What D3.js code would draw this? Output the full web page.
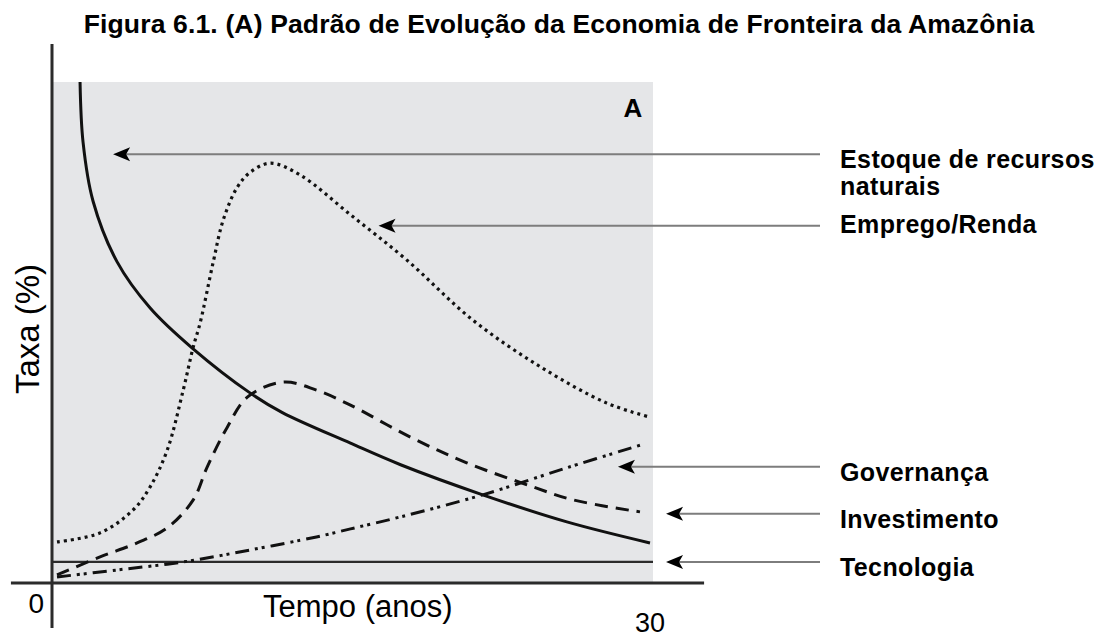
<!DOCTYPE html>
<html>
<head>
<meta charset="utf-8">
<script src="https://cdn.jsdelivr.net/npm/d3@7"></script>
<style>
  body { margin: 0; background: #fff; }
  text { font-family: "Liberation Sans", Arial, Helvetica, sans-serif; fill: #000; }
</style>
</head>
<body>
<div id="chart"></div>
<script>
// Curves: x in years (0-30), y in % of the plot height
var estoqueX   = [1.4, 1.55, 2.05, 3.25, 4.9, 7.0, 9.9, 11.5, 14.9, 17.4, 21.5, 25.7, 29.85],
    estoqueY   = [100, 88, 76.2, 64.1, 54.9, 46.9, 37.9, 34.0, 27.9, 23.6, 17.6, 12.2, 8.0];

var empregoX   = [0.25, 2.4, 4.05, 4.9, 5.75, 6.55, 7.05, 7.4, 8.05, 8.55, 9.25, 9.9, 10.9, 12.4, 14.9, 17.7, 21.0, 24.4, 27.7, 29.85],
    empregoY   = [8.2, 10.0, 14.6, 19.2, 26.5, 38.5, 47.1, 52.0, 64.1, 72.5, 79.0, 82.0, 83.8, 81.4, 73.5, 64.5, 52.5, 43.1, 35.9, 33.1];

var investX    = [0.25, 2.4, 4.25, 5.75, 7.05, 7.75, 8.75, 9.75, 11.55, 13.2, 14.9, 17.9, 20.7, 24.0, 26.0, 29.35],
    investY    = [1.6, 5.2, 8.0, 11.0, 16.6, 23.2, 31.1, 37.1, 40.1, 38.5, 35.5, 29.1, 24.0, 19.2, 16.6, 14.2];

var governX    = [0.25, 3.25, 6.55, 9.9, 13.2, 14.9, 17.4, 21.5, 25.7, 29.35],
    governY    = [1.2, 2.6, 4.2, 6.6, 9.2, 10.8, 13.2, 17.6, 23.0, 27.5];

var tecnoX     = [0, 30],
    tecnoY     = [4.2, 4.2];

// Legend: label lines, arrow tip (x, y) in data units
var labelLines = [["Estoque de recursos", "naturais"], ["Emprego/Renda"], ["Governança"], ["Investimento"], ["Tecnologia"]],
    arrowTipX  = [3.05, 16.3, 28.25, 30.65, 30.65],
    arrowTipY  = [85.6, 71.3, 23.2, 13.8, 4.2];

var titleText  = "Figura 6.1. (A) Padrão de Evolução da Economia de Fronteira da Amazônia",
    xLabel     = "Tempo (anos)",
    yLabel     = "Taxa (%)",
    xTicks     = [0, 30],
    panelTag   = "A";

var width  = 1105,
    height = 638;

var svg = d3.select("#chart")
            .append("svg")
              .attr("width", width)
              .attr("height", height);

// Scales: plot area is the grey panel
var x = d3.scaleLinear().domain([0, 30]).range([52, 653]),
    y = d3.scaleLinear().domain([0, 100]).range([583, 82]);

// Grey panel
svg.append("rect")
     .attr("x", x(0))
     .attr("y", y(100))
     .attr("width", x(30) - x(0))
     .attr("height", y(0) - y(100))
     .style("fill", "#e5e6e8");

// Title
svg.append("text")
     .attr("x", 559)
     .attr("y", 33)
     .attr("text-anchor", "middle")
     .style("font-size", "26.5px")
     .style("font-weight", "bold")
     .style("letter-spacing", "0.15px")
     .text(titleText);

// Panel tag
svg.append("text")
     .attr("x", x(29))
     .attr("y", 117)
     .attr("text-anchor", "middle")
     .style("font-size", "26px")
     .style("font-weight", "bold")
     .text(panelTag);

var line = d3.line()
             .x(function(d) { return x(d[0]); })
             .y(function(d) { return y(d[1]); })
             .curve(d3.curveCatmullRom.alpha(0.5));

function pts(xs, ys) { return xs.map(function(v, i) { return [v, ys[i]]; }); }

// Series, drawn with their own dash style
var series = [
  {xs: tecnoX,   ys: tecnoY,   dash: null,              w: 2.2, c: "#2b2b2b"},
  {xs: governX,  ys: governY,  dash: "14,6,3,4,3,6",    w: 3,   c: "#111"},
  {xs: investX,  ys: investY,  dash: "13,8",            w: 3,   c: "#111"},
  {xs: empregoX, ys: empregoY, dash: "3,4",             w: 3.2, c: "#111"},
  {xs: estoqueX, ys: estoqueY, dash: null,              w: 3,   c: "#111"}
];

svg.append("g")
     .attr("class", "series")
   .selectAll("path")
   .data(series)
   .enter()
   .append("path")
     .attr("d", function(d) { return line(pts(d.xs, d.ys)); })
     .style("fill", "none")
     .style("stroke", function(d) { return d.c; })
     .style("stroke-width", function(d) { return d.w; })
     .style("stroke-dasharray", function(d) { return d.dash; });

// Axes (plain lines, no ticks)
svg.append("line")
     .attr("x1", x(-2.05)).attr("x2", x(32.55))
     .attr("y1", y(0)).attr("y2", y(0))
     .style("stroke", "#2b2b2b")
     .style("stroke-width", 3);

svg.append("line")
     .attr("x1", x(0)).attr("x2", x(0))
     .attr("y1", y(107.6)).attr("y2", y(-9))
     .style("stroke", "#2b2b2b")
     .style("stroke-width", 3);

// Tick labels 0 and 30
svg.append("text")
     .attr("x", x(xTicks[0]) - 8)
     .attr("y", 613)
     .attr("text-anchor", "end")
     .style("font-size", "28px")
     .text(xTicks[0]);

svg.append("text")
     .attr("x", x(xTicks[1]) - 3)
     .attr("y", 632)
     .attr("text-anchor", "middle")
     .style("font-size", "27px")
     .text(xTicks[1]);

// Axis titles
svg.append("text")
     .attr("x", 263)
     .attr("y", 617)
     .style("font-size", "31px")
     .text(xLabel);

svg.append("text")
     .attr("transform", "translate(39,329) rotate(-90)")
     .attr("text-anchor", "middle")
     .style("font-size", "33px")
     .text(yLabel);

// Legend arrows and labels
var arrowEnd = 820,
    labelX   = 840;

var legend = svg.append("g")
                  .attr("class", "legend")
                .selectAll("g")
                .data(labelLines)
                .enter()
                .append("g");

legend.append("line")
        .attr("x1", function(d, i) { return x(arrowTipX[i]) + 10; })
        .attr("x2", arrowEnd)
        .attr("y1", function(d, i) { return y(arrowTipY[i]); })
        .attr("y2", function(d, i) { return y(arrowTipY[i]); })
        .style("stroke", "#7d7d7d")
        .style("stroke-width", 2);

legend.append("path")
        .attr("d", function(d, i) {
          var tx = x(arrowTipX[i]), ty = y(arrowTipY[i]);
          return "M" + tx + "," + ty + "L" + (tx + 17) + "," + (ty - 7) + "L" + (tx + 13) + "," + ty + "L" + (tx + 17) + "," + (ty + 7) + "Z";
        })
        .style("fill", "#000");

legend.append("text")
        .attr("x", labelX)
        .attr("y", function(d, i) { return y(arrowTipY[i]) + (i == 1 ? 7 : 14); })
        .style("font-size", "25px")
        .style("font-weight", "bold")
        .style("letter-spacing", "0.4px")
      .selectAll("tspan")
      .data(function(d) { return d; })
      .enter()
      .append("tspan")
        .attr("x", labelX)
        .attr("dy", function(d, j) { return j == 0 ? 0 : 27; })
        .text(function(d) { return d; });
</script>
</body>
</html>
